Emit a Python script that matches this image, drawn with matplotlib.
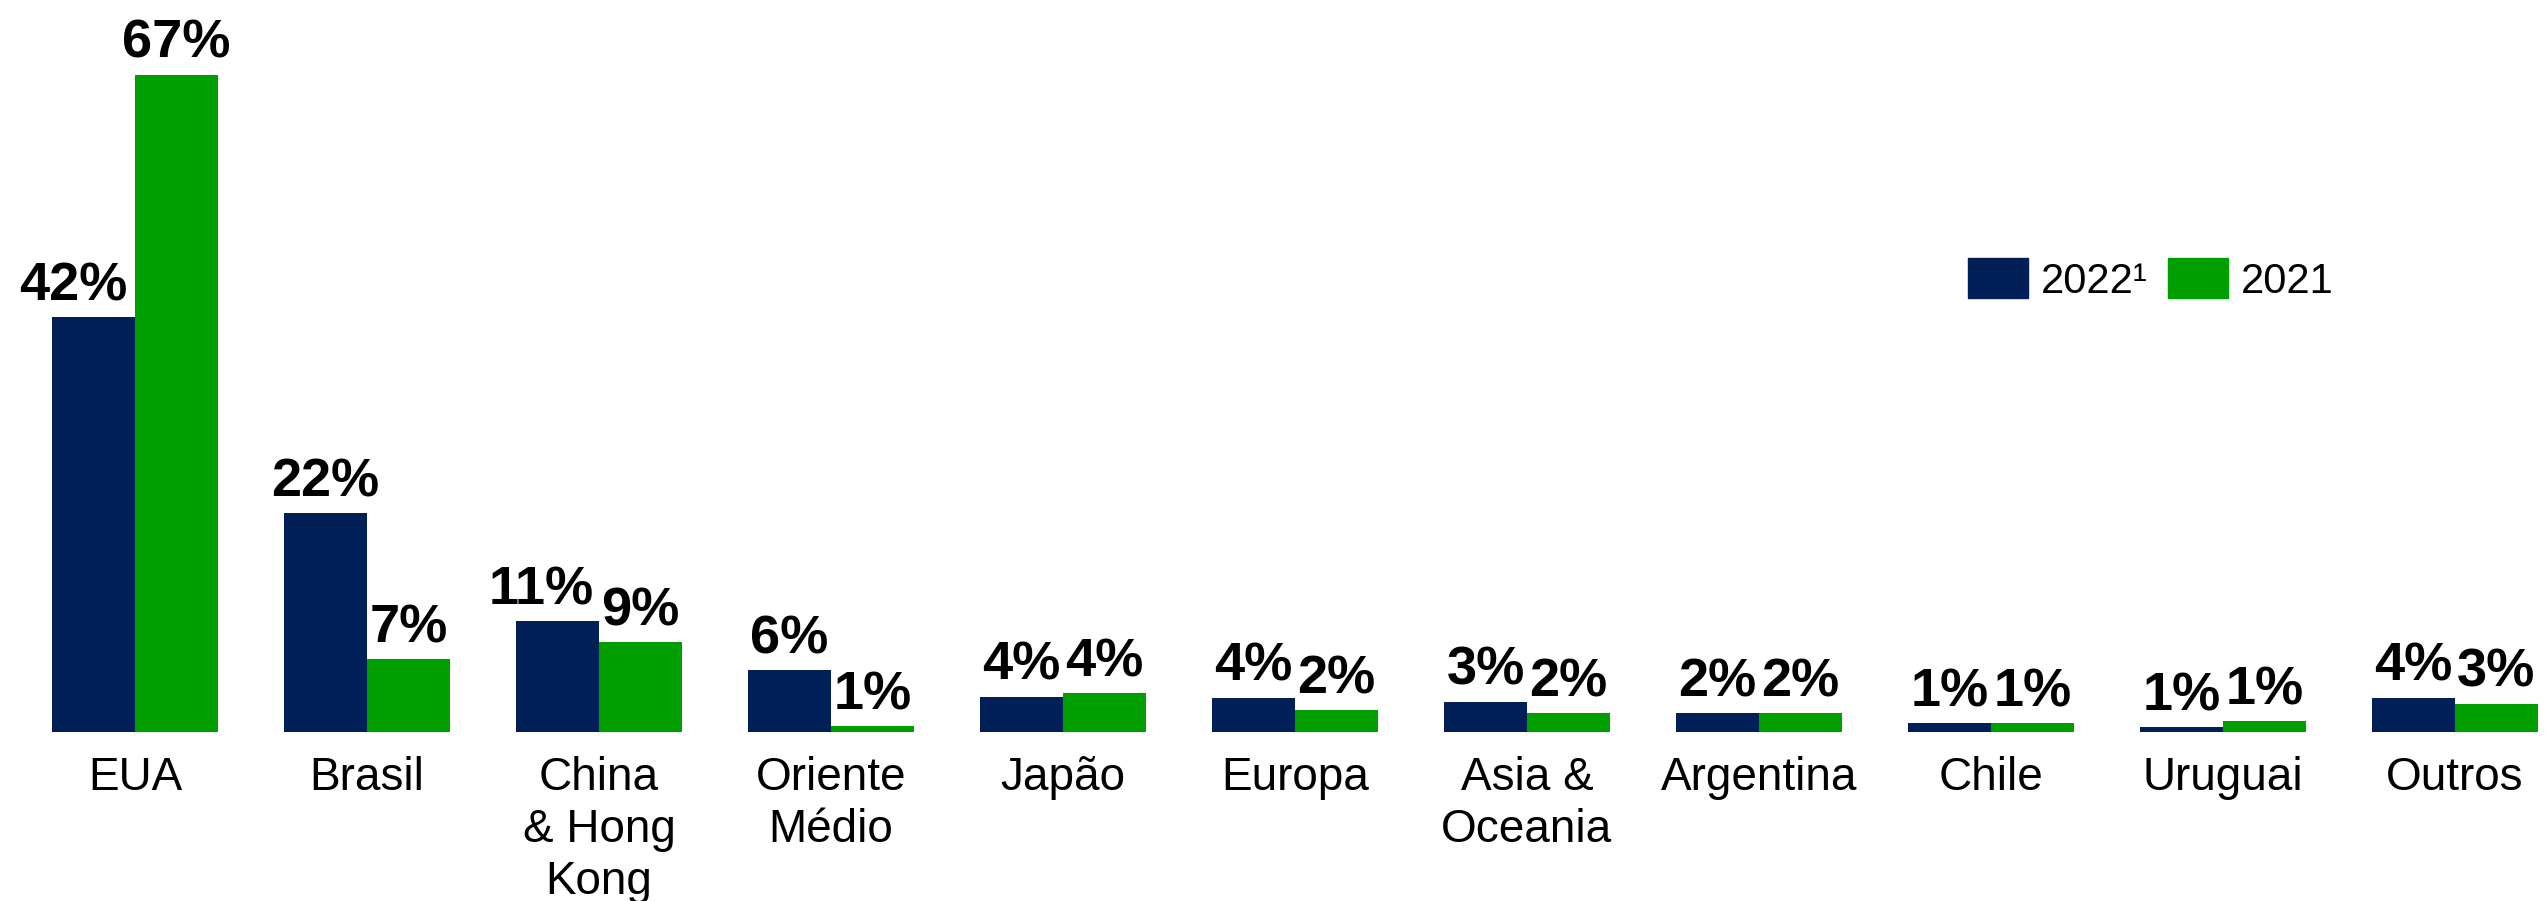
import numpy as np
import matplotlib
matplotlib.use("Agg")
import matplotlib.pyplot as plt
from matplotlib.patches import Patch

plt.rcParams['font.family'] = ['Liberation Sans', 'DejaVu Sans']

# regions and shares (%)
regions = ["EUA", "Brasil", "China\n& Hong\nKong", "Oriente\nMédio", "Japão", "Europa",
           "Asia &\nOceania", "Argentina", "Chile", "Uruguai", "Outros"]
share_2022 = [42.3, 22.3, 11.3, 6.3, 3.6, 3.5, 3.1, 1.9, 0.9, 0.5, 3.5]
share_2021 = [67.0, 7.4, 9.2, 0.6, 4.0, 2.2, 1.9, 1.9, 0.9, 1.1, 2.9]
labels_2022 = ["42%", "22%", "11%", "6%", "4%", "4%", "3%", "2%", "1%", "1%", "4%"]
labels_2021 = ["67%", "7%", "9%", "1%", "4%", "2%", "2%", "2%", "1%", "1%", "3%"]
series_names = ["2022¹", "2021"]

navy = "#022058"
green = "#009F00"

fig = plt.figure(figsize=(25.47, 9.01), dpi=100)
ax = fig.add_axes([0, 0.1876, 1, 0.8124])

x = np.arange(len(regions))
w = 0.357
b1 = ax.bar(x - w / 2, share_2022, w, color=navy, linewidth=0)
b2 = ax.bar(x + w / 2, share_2021, w, color=green, linewidth=0)

# small nudges where the 2022 label would run into the taller neighbour
nudge = {0: -15, 2: -12}

for i, (r, lab) in enumerate(zip(b1, labels_2022)):
    ax.annotate(lab, (r.get_x() + r.get_width() / 2, r.get_height()),
                xytext=(nudge.get(i, 0), 12), textcoords="offset points",
                ha="center", va="baseline", fontsize=39, fontweight="bold")
for r, lab in zip(b2, labels_2021):
    ax.annotate(lab, (r.get_x() + r.get_width() / 2, r.get_height()),
                xytext=(0, 12), textcoords="offset points",
                ha="center", va="baseline", fontsize=39, fontweight="bold")

ax.set_xlim(-0.582, 10.397)
ax.set_ylim(0, 74.6)
ax.set_xticks(x)
ax.set_xticklabels(regions, fontsize=33, linespacing=1.24)
ax.tick_params(axis="x", length=0, pad=17)
ax.set_yticks([])
for s in ax.spines.values():
    s.set_visible(False)

handles = [Patch(color=navy), Patch(color=green)]
fig.legend(handles, series_names, loc="center left",
           bbox_to_anchor=(1968 / 2547, 1 - 280 / 901), ncol=2, frameon=False,
           fontsize=30, handlelength=1.44, handleheight=1.1, handletextpad=0.3,
           columnspacing=0.5, borderpad=0, borderaxespad=0)

fig.savefig("out.png", dpi=100)
